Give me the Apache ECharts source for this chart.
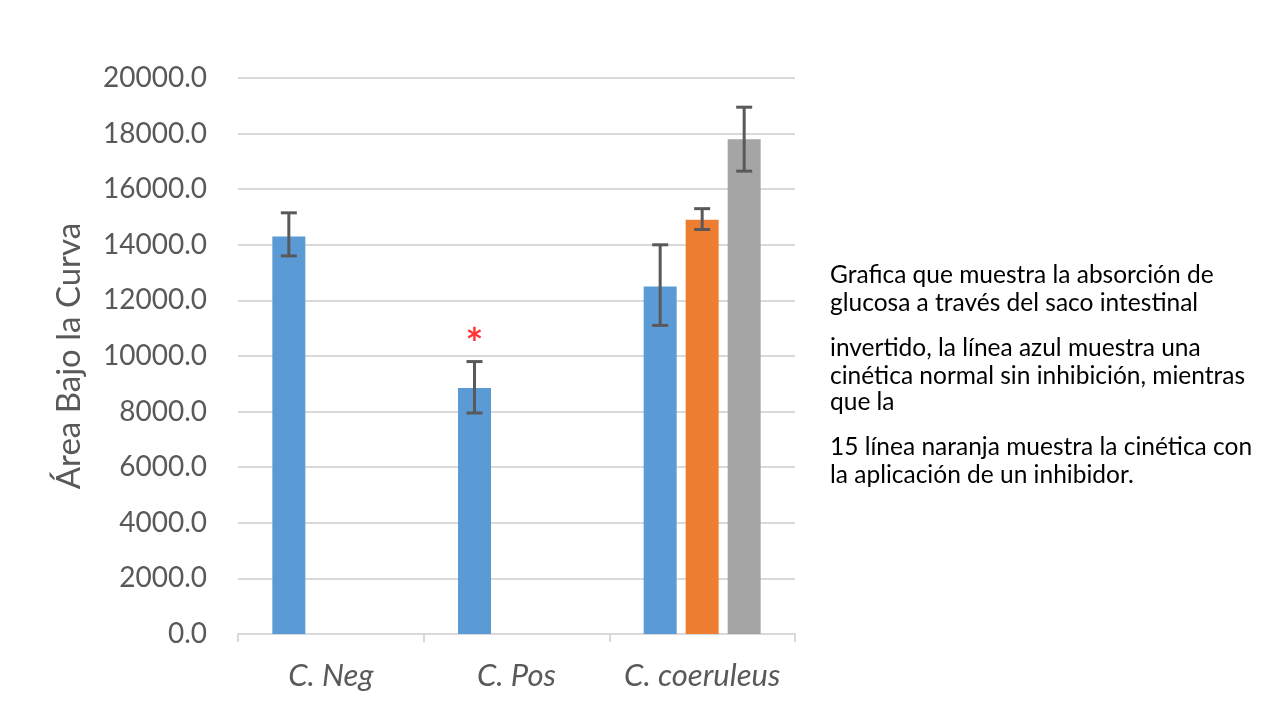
<!DOCTYPE html>
<html><head><meta charset="utf-8">
<script src="https://cdn.jsdelivr.net/npm/echarts@6/dist/echarts.min.js"></script>
<style>html,body{margin:0;padding:0;background:#fff}#c{width:1280px;height:720px}</style>
</head><body><div id="c"></div>
<script>
const categories = ['C. Neg', 'C. Pos', 'C. coeruleus'];
const blueValues = [14300, 8850, 12500];
const orangeValues = [null, null, 14900];
const grayValues = [null, null, 17800];
const blueErrors = [[13600, 15150], [7950, 9800], [11100, 14000]];
const orangeErrors = [null, null, [14550, 15300]];
const grayErrors = [null, null, [16650, 18950]];
const starPoint = [[1, 10450]];
const yTicks = { min: 0, max: 20000, interval: 2000 };
const noteLines = [
  'Grafica que muestra la absorción de',
  'glucosa a través del saco intestinal',
  'invertido, la línea azul muestra una',
  'cinética normal sin inhibición, mientras',
  'que la',
  '15 línea naranja muestra la cinética con',
  'la aplicación de un inhibidor.'
];
const noteTops = [263, 291, 336, 364, 390, 435, 463];

const BAR_W = 33, GAP = 9;
const FONT = 'Lato, "Open Sans", sans-serif';
const colors = ['#5B9BD5', '#ED7D31', '#A5A5A5'];

function errSeries(errs, slot) {
  const data = [];
  errs.forEach((e, i) => { if (e) data.push([i, e[0], e[1]]); });
  return {
    type: 'custom', z: 5,
    renderItem: function (params, api) {
      const off = (slot - 1) * (BAR_W + GAP);
      const lo = api.coord([api.value(0), api.value(1)]);
      const hi = api.coord([api.value(0), api.value(2)]);
      const x = lo[0] + off, cap = 8;
      const st = { stroke: '#595959', lineWidth: 3 };
      return { type: 'group', children: [
        { type: 'line', shape: { x1: x, y1: lo[1], x2: x, y2: hi[1] }, style: st },
        { type: 'line', shape: { x1: x - cap, y1: lo[1], x2: x + cap, y2: lo[1] }, style: st },
        { type: 'line', shape: { x1: x - cap, y1: hi[1], x2: x + cap, y2: hi[1] }, style: st }
      ]};
    },
    data: data
  };
}

const chart = echarts.init(document.getElementById('c'));
chart.setOption({
  animation: false,
  backgroundColor: '#fff',
  grid: { left: 238, top: 78, width: 557, height: 556 },
  xAxis: {
    type: 'category', data: categories,
    axisLine: { lineStyle: { color: '#d9d9d9', width: 2 } },
    axisTick: { show: true, length: 8, lineStyle: { color: '#d9d9d9', width: 2 } },
    axisLabel: { interval: 0, fontFamily: FONT, fontStyle: 'italic', fontSize: 31, color: '#595959', margin: 26 }
  },
  yAxis: {
    type: 'value', min: yTicks.min, max: yTicks.max, interval: yTicks.interval,
    name: 'Área Bajo la Curva', nameLocation: 'middle', nameGap: 152,
    nameTextStyle: { fontFamily: FONT, fontSize: 33, color: '#595959' },
    axisLine: { show: false }, axisTick: { show: false },
    splitLine: { lineStyle: { color: '#d9d9d9', width: 2 } },
    axisLabel: { fontFamily: FONT, fontSize: 28, color: '#595959', margin: 31,
      formatter: v => v.toFixed(1) }
  },
  series: [
    { type: 'bar', data: blueValues, barWidth: BAR_W, barGap: (GAP / BAR_W * 100) + '%', itemStyle: { color: colors[0] } },
    { type: 'bar', data: orangeValues, barWidth: BAR_W, itemStyle: { color: colors[1] } },
    { type: 'bar', data: grayValues, barWidth: BAR_W, itemStyle: { color: colors[2] } },
    errSeries(blueErrors, 0), errSeries(orangeErrors, 1), errSeries(grayErrors, 2),
    { type: 'scatter', data: starPoint, symbolSize: 0, z: 6,
      label: { show: true, position: 'inside', formatter: '*', color: '#FF0000', fontSize: 42,
        fontWeight: 'bold', fontFamily: FONT, offset: [-(BAR_W + GAP), 2] } }
  ],
  graphic: noteLines.map((t, i) => ({
    type: 'text', left: 830, top: noteTops[i],
    style: { text: t, fontFamily: FONT, fontSize: 24.5, fill: '#000' }
  }))
});
</script></body></html>
